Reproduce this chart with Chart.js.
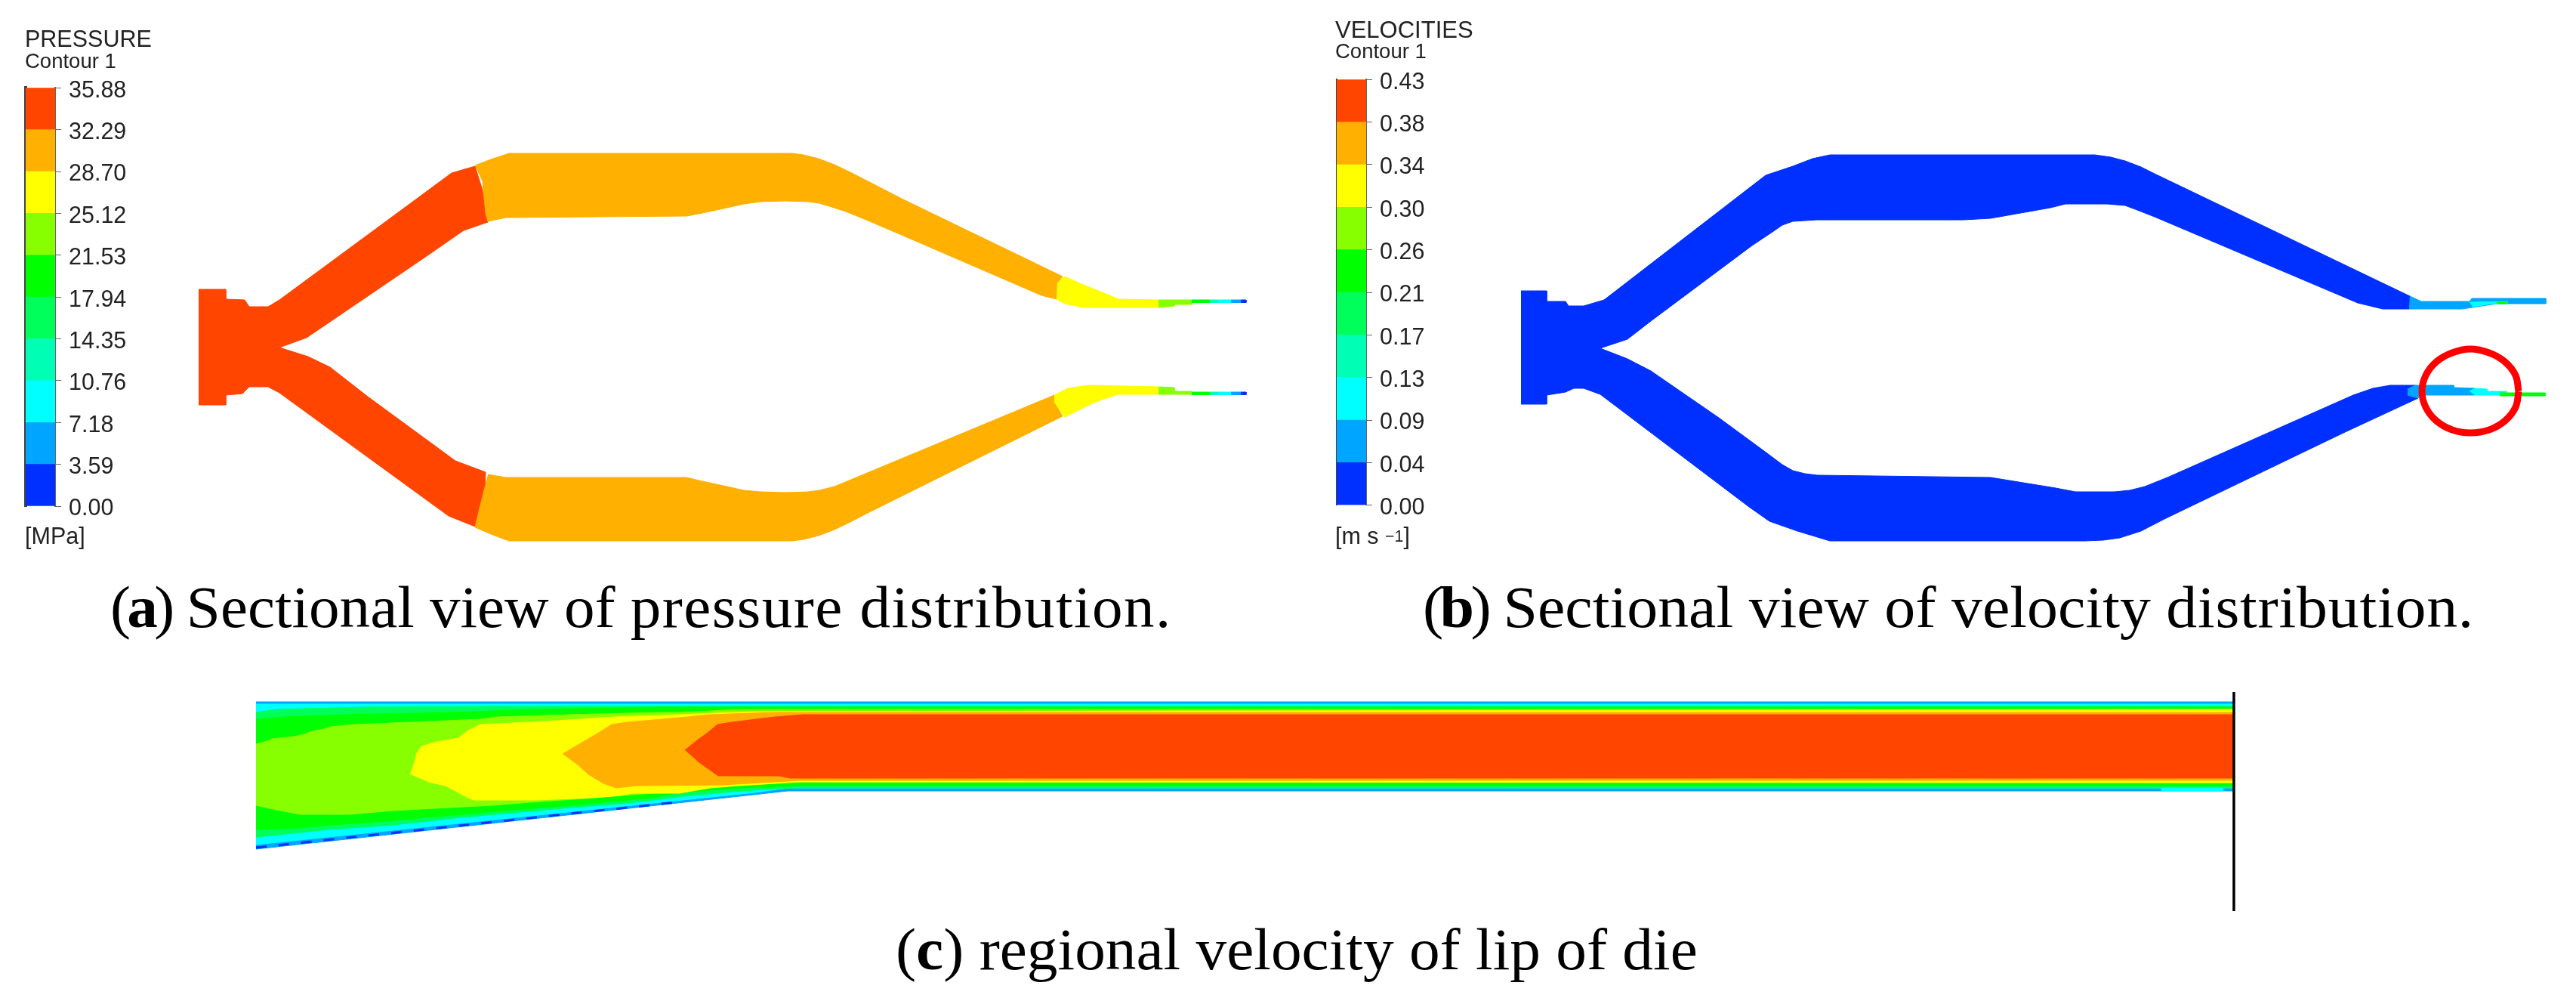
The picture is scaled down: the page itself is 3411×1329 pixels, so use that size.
<!DOCTYPE html>
<html>
<head>
<meta charset="utf-8">
<title>Die flow contours</title>
<script src="https://cdn.jsdelivr.net/npm/chart.js@4"></script>
<style>
  html, body { margin: 0; background: #fff; }
  #page { position: relative; width: 3411px; height: 1329px; overflow: hidden; }
  #page canvas { position: absolute; }
  .leg { position: absolute; font-family: "Liberation Sans", sans-serif; color: #222; white-space: nowrap; line-height: 1; filter: blur(0.6px); }
  .leg sup { font-size: 70%; position: relative; top: -3px; line-height: 0; vertical-align: baseline; }
  .cap { position: absolute; font-family: "Liberation Serif", serif; color: #000; white-space: nowrap; line-height: 1; font-size: 78px; transform-origin: 0 0; }
  .tag { letter-spacing: -4.5px; }
</style>
</head>
<body>
<div id="page">
  <canvas id="flow" width="3411" height="1329" style="left:0;top:0"></canvas>
  <canvas id="barP" width="200" height="620" style="left:20px;top:88px"></canvas>
  <canvas id="barV" width="200" height="620" style="left:1756px;top:77px"></canvas>

  <div class="leg" style="left:33px;top:36px;font-size:30.5px">PRESSURE</div>
  <div class="leg" style="left:33px;top:67px;font-size:27.5px">Contour 1</div>
  <div class="leg" style="left:33px;top:694px;font-size:30.5px">[MPa]</div>

  <div class="leg" style="left:1768px;top:24px;font-size:31px">VELOCITIES</div>
  <div class="leg" style="left:1768px;top:54px;font-size:27.5px">Contour 1</div>
  <div class="leg" style="left:1768px;top:694px;font-size:30.5px">[m s <sup>−1</sup>]</div>

  <div class="cap" style="left:146px;top:765px;transform:scaleX(1.04)"><span class="tag">(<b>a</b>)</span> Sectional view of <span style="letter-spacing:1.4px">pressure distribution.</span></div>
  <div class="cap" style="left:1884px;top:765px;transform:scaleX(1.05)"><span class="tag">(<b>b</b>)</span> Sectional view of velocity <span style="letter-spacing:0.7px">distribution.</span></div>
  <div class="cap" style="left:1186px;top:1218px;transform:scaleX(1.043)">(<b>c</b>) regional velocity of lip of die</div>
</div>

<script>
// ── Colour bands, low to high ──
const bandColors = ['#0030ff','#00a5ff','#00ffff','#00ffb4','#00ff5a','#00ff00','#88ff00','#ffff00','#ffb000','#ff4500'];
const BLUE = bandColors[0], SKY = bandColors[1], CYAN = bandColors[2], AQUA = bandColors[3], MINT = bandColors[4];
const GREEN = bandColors[5], LIME = bandColors[6], YELLOW = bandColors[7], AMBER = bandColors[8], RED = bandColors[9];

const pressureTicks = ['0.00','3.59','7.18','10.76','14.35','17.94','21.53','25.12','28.70','32.29','35.88'];
const velocityTicks = ['0.00','0.04','0.09','0.13','0.17','0.21','0.26','0.30','0.34','0.38','0.43'];
const bandSpans = [1, 1, 1, 1, 1, 1, 1, 1, 1, 1];

// ── (a) pressure outline ──
const pRed = [[263,383],[299,383],[299,396],[324,397],[330,406],[355,406],[370,397],[598,229],[629,220],[639,252],[644,282],[646,294],[614,305],[562,341],[437,426],[406,447],[370,460],[408,472],[437,486],[487,525],[603,610],[643,625],[642,654],[629,697],[594,683],[370,520],[355,512],[330,512],[321,521],[299,523],[299,536],[263,536]];
const pAmberTop = [[629,219],[650,211],[674,203],[1049,203],[1064,205],[1084,210],[1105,218],[1126,228],[1196,264],[1407,366],[1400,375],[1399,396],[1379,391],[1217,321],[1147,291],[1120,280],[1098,273],[1085,269],[1070,267],[1040,266],[1007,267],[985,270],[958,276],[930,282],[909,286],[670,288],[646,293],[643,282],[639,241]];
const pYellowTop = [[1400,375],[1410,366],[1432,376],[1455,385],[1481,396],[1534,397],[1534,407],[1435,407],[1410,402],[1399,396]];
const pLimeTop = [[1534,397],[1578,397],[1578,403],[1555,403],[1555,405],[1534,407]];
const pAmberLow = [[646,628],[670,632],[909,632],[930,637],[958,643],[985,649],[1007,651],[1040,652],[1070,651],[1085,649],[1105,644],[1396,523],[1396,532],[1407,551],[1147,680],[1126,691],[1105,701],[1084,709],[1064,714],[1049,716],[674,716],[650,707],[629,698],[635,673],[643,641]];
const pYellowLow = [[1396,523],[1414,514],[1442,510],[1533,512],[1533,522],[1481,522],[1462,528],[1446,534],[1410,552],[1396,532]];
const pLimeLow = [[1534,512],[1555,513],[1555,518],[1578,518],[1578,522],[1534,522]];
const pTailTop = [[1578,397,1602,GREEN],[1602,397,1613,AQUA],[1613,397,1630,CYAN],[1630,397,1643,SKY],[1643,397,1650,BLUE]];
const pTailLow = [[1578,519,1602,GREEN],[1602,519,1613,AQUA],[1613,519,1630,CYAN],[1630,519,1643,SKY],[1643,519,1650,BLUE]];

// ── (b) velocity outline ──
const vBlue = [[2014,385],[2048,385],[2048,399],[2073,399],[2077,405],[2097,405],[2124,397],[2338,232],[2374,220],[2400,210],[2423,205],[2774,205],[2795,208],[2814,213],[2835,221],[2853,230],[3191,392],[3190,409],[3155,409],[3122,401],[2853,287],[2830,278],[2814,272],[2790,270],[2735,270],[2715,275],[2636,289],[2600,291],[2406,291],[2374,293],[2360,298],[2347,307],[2320,325],[2186,425],[2155,449],[2119,461],[2155,475],[2186,491],[2276,553],[2340,600],[2360,615],[2374,623],[2390,627],[2406,629],[2636,632],[2722,646],[2748,651],[2800,651],[2820,649],[2840,644],[2870,632],[3116,523],[3142,514],[3165,510],[3198,510],[3188,515],[3188,523],[3202,527],[3103,573],[2866,687],[2835,703],[2807,712],[2785,715],[2761,716],[2423,716],[2380,703],[2343,690],[2316,671],[2119,522],[2097,514],[2084,514],[2073,519],[2048,523],[2048,535],[2014,535]];
const vSkyTop = [[3191,392],[3206,399],[3270,399],[3273,395],[3371,395],[3371,402],[3306,402],[3260,409],[3190,409]];
const vCyanTop = [[3270,400],[3320,399],[3320,402],[3300,402],[3274,406]];
const vGreenTop = [[3306,400],[3320,400],[3320,402],[3306,402]];
const vSkyLow = [[3188,515],[3198,510],[3249,510],[3249,513],[3277,514],[3277,523],[3202,523],[3202,527],[3188,523]];
const vCyanLow = [[3270,518],[3277,514],[3293,515],[3293,518],[3319,518],[3319,520],[3310,523],[3277,523]];
const vGreenLow = [[3310,520],[3370,520],[3370,524],[3310,524]];
const redRing = [[3335,518],[3331,539],[3317,557],[3296,569],[3271,573],[3247,569],[3226,557],[3212,539],[3207,518],[3212,497],[3226,479],[3247,467],[3271,462],[3296,467],[3317,479],[3331,497],[3335,518]];

// ── (c) lip of die, bands from the wall inward ──
const lipSky = [[339,929],[2957,929],[2957,1047],[1043,1047],[339,1124]];
const lipCyan = [[339,932],[2957,932],[2957,1043],[1043,1043],[1000,1049],[607,1090],[339,1118]];
const lipMint = [[339,943],[366,939],[484,936],[659,935],[2957,935],[2957,1043],[1058,1043],[1026,1044],[980,1047],[905,1054],[831,1063],[756,1069],[676,1076],[601,1083],[521,1092],[435,1098],[397,1102],[339,1108]];
const lipGreen = [[339,952],[377,949],[455,946],[601,943],[710,939],[874,936],[2957,936],[2957,1040],[1058,1040],[980,1043],[940,1046],[900,1049],[865,1056],[831,1059],[756,1066],[719,1069],[676,1072],[636,1076],[601,1079],[561,1082],[521,1086],[484,1089],[435,1092],[395,1096],[339,1098]];
const lipLime = [[339,985],[354,981],[360,978],[389,975],[403,972],[412,968],[429,965],[438,962],[470,959],[543,956],[636,952],[659,949],[750,946],[874,943],[900,943],[980,939],[997,939],[2957,939],[2957,1036],[1058,1035],[980,1040],[940,1043],[865,1050],[822,1053],[788,1056],[745,1059],[702,1062],[653,1066],[595,1069],[521,1073],[463,1078],[397,1078],[366,1072],[339,1066]];
const lipYellow = [[543,1025],[547,1015],[552,997],[558,988],[578,982],[607,977],[618,968],[636,959],[722,955],[814,949],[900,946],[997,942],[2957,939],[2957,1036],[1058,1035],[1026,1037],[974,1040],[940,1043],[900,1050],[862,1050],[837,1050],[822,1053],[785,1056],[710,1059],[627,1059],[618,1055],[590,1040],[567,1035]];
const lipAmber = [[745,998],[762,988],[779,978],[796,968],[810,959],[831,956],[911,949],[940,946],[1026,943],[2957,943],[2957,1033],[1058,1033],[1023,1035],[957,1039],[842,1040],[816,1043],[799,1037],[779,1025],[768,1015]];
const lipRed = [[907,993],[923,980],[937,970],[950,959],[969,956],[1026,949],[1063,946],[2957,946],[2957,1030],[1046,1030],[1032,1027],[951,1027],[923,1007]];
const lipCyanBit = [[2862,1043],[2943,1043],[2943,1047],[2862,1047]];

// ── Datasets ──
const toPoints = list => list.map(p => ({ x: p[0], y: p[1] }));

function polygon(list, color) {
  return {
    data: toPoints(list),
    showLine: true,
    fill: 'shape',
    backgroundColor: color,
    borderColor: color,
    borderWidth: 1,
    pointRadius: 0,
  };
}

function tailCells(list, thick) {
  return list.map(c => polygon([[c[0], c[1]], [c[2], c[1]], [c[2], c[1] + thick], [c[0], c[1] + thick]], c[3]));
}

const flowLayers = [
  polygon(pRed, RED), polygon(pAmberTop, AMBER), polygon(pAmberLow, AMBER),
  polygon(pYellowTop, YELLOW), polygon(pYellowLow, YELLOW), polygon(pLimeTop, LIME), polygon(pLimeLow, LIME),
  ...tailCells(pTailTop, 3.5), ...tailCells(pTailLow, 3.5),
  polygon(vBlue, BLUE), polygon(vSkyTop, SKY), polygon(vCyanTop, CYAN), polygon(vGreenTop, GREEN),
  polygon(vSkyLow, SKY), polygon(vCyanLow, CYAN), polygon(vGreenLow, GREEN),
  polygon(lipSky, SKY), polygon(lipCyan, CYAN), polygon(lipMint, MINT), polygon(lipGreen, GREEN),
  polygon(lipLime, LIME), polygon(lipYellow, YELLOW), polygon(lipAmber, AMBER), polygon(lipRed, RED),
  polygon(lipCyanBit, CYAN),
  // dark notches along the sloped wall
  { data: toPoints([[339,1122],[894,1062]]), showLine: true, borderColor: BLUE, borderWidth: 3, borderDash: [14, 16], pointRadius: 0 },
  // end plane
  { data: toPoints([[2958,916],[2958,1206]]), showLine: true, borderColor: '#000', borderWidth: 3.5, pointRadius: 0 },
  // marker ring
  { data: toPoints(redRing), showLine: true, borderColor: '#ff0000', borderWidth: 9, tension: 0.4, pointRadius: 0 },
];
flowLayers.forEach((d, i) => { d.order = flowLayers.length - i; });

new Chart(document.getElementById('flow'), {
  type: 'scatter',
  data: { datasets: flowLayers },
  options: {
    responsive: false, animation: false, devicePixelRatio: 1,
    layout: { padding: 0 },
    plugins: { legend: { display: false }, tooltip: { enabled: false } },
    scales: {
      x: { type: 'linear', min: 0, max: 3411, display: false },
      y: { type: 'linear', min: 0, max: 1329, reverse: true, display: false },
    },
  },
});

// ── Colour bars ──
function colourBar(id, labels, padTop, padBottom, edgeWidth) {
  const datasets = bandSpans.map((span, i) => ({
    data: [span],
    backgroundColor: bandColors[i],
    barPercentage: 1,
    categoryPercentage: 1,
    borderWidth: 0,
  }));
  return new Chart(document.getElementById(id), {
    type: 'bar',
    data: { labels: [''], datasets },
    options: {
      responsive: false, animation: false, devicePixelRatio: 1,
      layout: { autoPadding: false, padding: { top: padTop, bottom: padBottom, left: 12 } },
      plugins: { legend: { display: false }, tooltip: { enabled: false } },
      scales: {
        x: { stacked: true, display: false },
        y: {
          stacked: true, position: 'right',
          min: 0, max: bandSpans.length,
          afterBuildTicks: axis => { axis.ticks = labels.map((l, i) => ({ value: i })); },
          afterFit: axis => { axis.width = 147; },
          grid: { drawOnChartArea: false, tickLength: 8, color: '#666' },
          border: { color: '#666', width: 2 },
          ticks: {
            color: '#222', padding: 10, labelOffset: 4, autoSkip: false,
            font: { family: '"Liberation Sans"', size: 30.5 },
            callback: (v, i) => labels[i],
          },
        },
        yEdge: {
          position: 'left', min: 0, max: 1,
          grid: { display: false },
          border: { color: '#444', width: edgeWidth },
          ticks: { display: false },
          afterFit: axis => { axis.width = 2; },
        },
      },
    },
  });
}

colourBar('barP', pressureTicks, 12, 38, 4);
colourBar('barV', velocityTicks, 12, 25, 2);
</script>
</body>
</html>
